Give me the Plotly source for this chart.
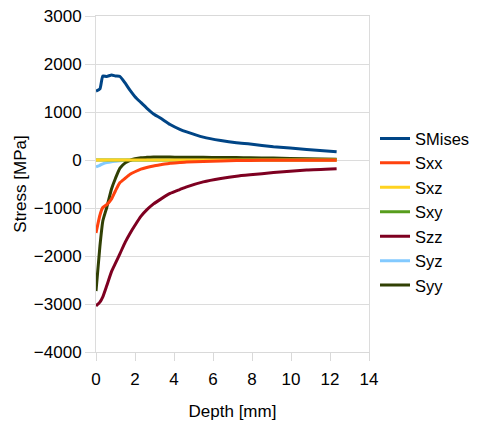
import plotly.graph_objects as go

depth = [0, 0.2, 0.35, 0.55, 0.8, 1.0, 1.23, 1.5, 1.75, 2.0, 2.3, 2.6, 2.95, 3.3, 3.8, 4.3, 4.65, 5.5, 6.4, 7.2, 7.9, 9.1, 10.8, 12.34]

smises = [1437, 1480, 1750, 1740, 1770, 1750, 1740, 1600, 1450, 1320, 1200, 1083, 960, 876, 740, 640, 586, 476, 405, 358, 331, 276, 221, 172]
sxx = [-1520, -1150, -990, -930, -810, -640, -470, -380, -297, -245, -190, -155, -124, -100, -68, -52, -41, -30, -20, -12, -8, -6, -5, -5]
sxz = [0] * len(depth)
sxy = [0] * len(depth)
szz = [-3040, -2960, -2850, -2620, -2320, -2150, -1950, -1710, -1525, -1360, -1175, -1040, -915, -820, -697, -615, -559, -455, -385, -337, -308, -262, -207, -180]
syz = [-145, -110, -80, -55, -35, -25, -15, -8, -4, -2, 0, 0, 0, 0, 0, 0, 0, 0, 0, 0, 0, 0, 0, 0]
syy = [-2730, -1800, -1270, -990, -600, -380, -170, -60, -6, 25, 48, 55, 60, 60, 60, 58, 57, 55, 52, 50, 48, 40, 25, 15]

names = ["SMises", "Sxx", "Sxz", "Sxy", "Szz", "Syz", "Syy"]
series = [smises, sxx, sxz, sxy, szz, syz, syy]
colors = ["#004586", "#ff420e", "#ffd320", "#579d1c", "#7e0021", "#83caff", "#314004"]

# drawing order (bottom to top); legend keeps the names order via legendrank
draw_order = ["SMises", "Szz", "Syz", "Sxy", "Syy", "Sxz", "Sxx"]

fig = go.Figure()
for n in draw_order:
    i = names.index(n)
    fig.add_trace(go.Scatter(x=depth, y=series[i], name=n, mode="lines",
                             legendrank=i + 1,
                             line=dict(color=colors[i], width=3, shape="spline", smoothing=0.5)))

font = "Liberation Sans, Arial, sans-serif"
fig.update_layout(
    width=478, height=413,
    margin=dict(l=88, r=117, t=8, b=69, autoexpand=False),
    paper_bgcolor="white", plot_bgcolor="white",
    font=dict(family=font, size=17, color="black"),
    showlegend=True,
    legend=dict(x=1.022, y=0.687, xanchor="left", yanchor="top",
                font=dict(size=16.5), traceorder="normal",
                itemwidth=30, bgcolor="rgba(0,0,0,0)"),
    xaxis=dict(range=[0, 14], dtick=2, tick0=0, showgrid=False,
               showline=True, linecolor="#d9d9d9", mirror=True,
               ticks="outside", ticklen=8, tickcolor="#d9d9d9",
               ticklabelstandoff=4, ticklabeloverflow="allow",
               zeroline=False, automargin=False,
               title=dict(text="Depth [mm]", font=dict(size=17), standoff=16)),
    yaxis=dict(range=[-4000, 3000], dtick=1000, tick0=0, showgrid=True,
               gridcolor="#dcdcdc", gridwidth=1,
               showline=True, linecolor="#dcdcdc", mirror=True,
               ticks="outside", ticklen=10, tickcolor="#dcdcdc",
               ticklabeloverflow="allow",
               zeroline=False, automargin=False,
               title=dict(text="Stress [MPa]", font=dict(size=17), standoff=2)),
)

fig.write_html("out.html")
